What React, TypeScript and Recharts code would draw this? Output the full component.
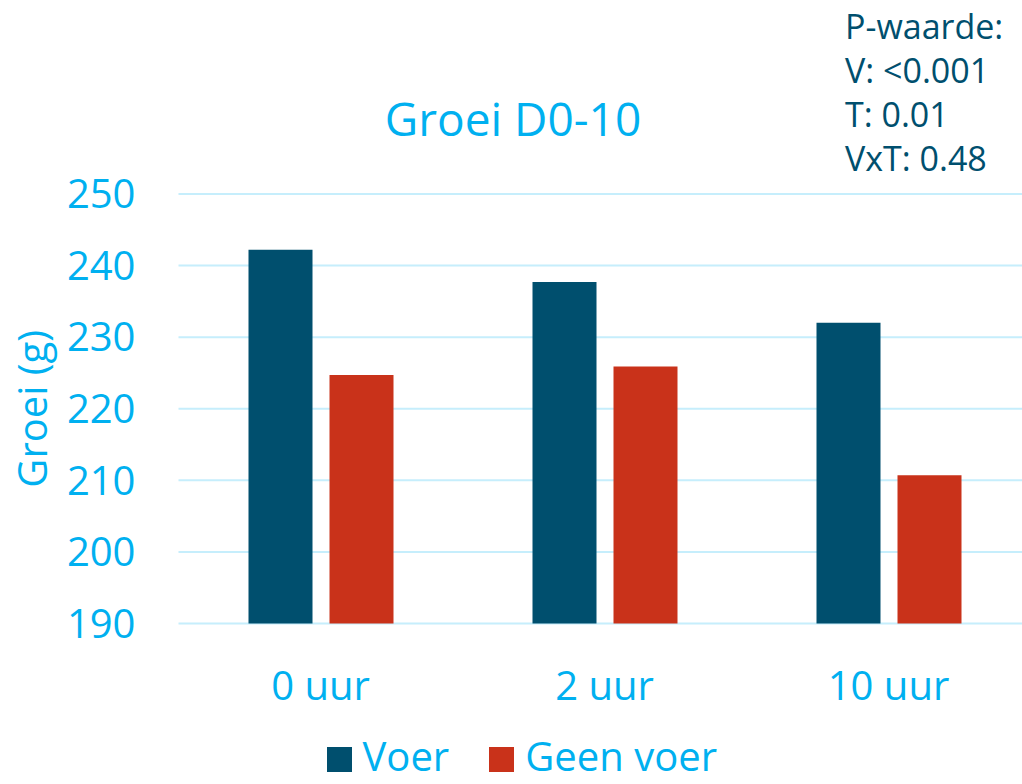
import React from 'react';
import { BarChart, Bar, XAxis, YAxis, CartesianGrid, Legend } from 'recharts';

const categories = ['0 uur', '2 uur', '10 uur'];
const voer = [242.2, 237.7, 232.0];
const geenVoer = [224.7, 225.9, 210.7];
const yTicks = [190, 200, 210, 220, 230, 240, 250];
const pLines = ['P-waarde:', 'V: <0.001', 'T: 0.01', 'VxT: 0.48'];
const seriesNames = ['Voer', 'Geen voer'];

const data = categories.map((c, i) => ({ cat: c, voer: voer[i], geen: geenVoer[i] }));

const FONT = '"Open Sans", "Noto Sans", sans-serif';
const LIGHT = '#00B0F0';
const DARK = '#004F6E';
const RED = '#C9321A';
const GRID = '#C6EEFC';

const renderLegend = (props: any) => {
  const payload = [...(props.payload || [])].sort(
    (a: any, b: any) => seriesNames.indexOf(a.value) - seriesNames.indexOf(b.value)
  );
  return (
    <div
      style={{
        height: 80,
        boxSizing: 'border-box',
        display: 'flex',
        justifyContent: 'center',
        alignItems: 'flex-start',
        paddingTop: 33,
        paddingLeft: 13,
        fontFamily: FONT,
        fontSize: 40,
        lineHeight: '38px',
        color: LIGHT,
      }}
    >
      {payload.map((p: any, i: number) => (
        <div key={i} style={{ display: 'flex', alignItems: 'center', marginLeft: i === 0 ? 0 : 40 }}>
          <span style={{ display: 'inline-block', width: 25, height: 25, background: p.color, marginRight: 11, marginTop: 6 }} />
          <span>{p.value}</span>
        </div>
      ))}
    </div>
  );
};

export default function App() {
  return (
    <div style={{ position: 'fixed', left: 0, top: 0, width: 1022, height: 784, overflow: 'hidden', background: '#fff' }}>
      <BarChart
        width={1040}
        height={784}
        data={data}
        margin={{ top: 194, right: 9.5, left: 0, bottom: 0 }}
        barGap={17}
        barSize={64}
      >
        <CartesianGrid vertical={false} stroke={GRID} strokeWidth={2} />
        <XAxis
          dataKey="cat"
          axisLine={false}
          tickLine={false}
          tickSize={0}
          tickMargin={48}
          height={80.5}
          tick={{ fill: LIGHT, fontSize: 40, fontFamily: FONT }}
        />
        <YAxis
          domain={[190, 250]}
          ticks={yTicks}
          width={178.5}
          axisLine={false}
          tickLine={false}
          tickSize={0}
          tickMargin={43}
          tick={{ fill: LIGHT, fontSize: 40, fontFamily: FONT }}
          label={{
            value: 'Groei (g)',
            angle: -90,
            position: 'insideLeft',
            offset: 33,
            style: { textAnchor: 'middle', fill: LIGHT, fontSize: 40, fontFamily: FONT },
          }}
        />
        <Legend verticalAlign="bottom" content={renderLegend} />
        <Bar dataKey="voer" name={seriesNames[0]} fill={DARK} isAnimationActive={false} />
        <Bar dataKey="geen" name={seriesNames[1]} fill={RED} isAnimationActive={false} />
        <text x={513} y={136} textAnchor="middle" fill={LIGHT} fontSize={46} fontFamily={FONT}>
          Groei D0-10
        </text>
        {pLines.map((t, i) => (
          <text key={i} x={845} y={39 + i * 44} fill={DARK} fontSize={34} fontFamily={FONT}>
            {t}
          </text>
        ))}
      </BarChart>
    </div>
  );
}
